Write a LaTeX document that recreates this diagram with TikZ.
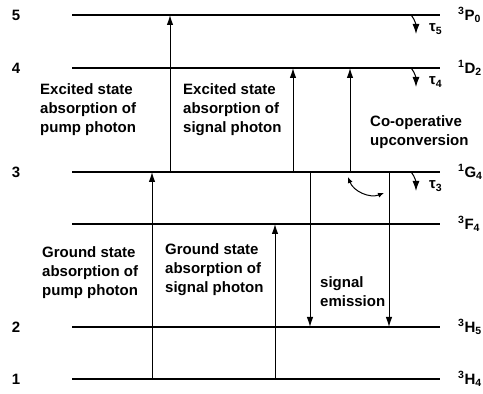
\documentclass[tikz,border=0pt]{standalone}
\usepackage{fontspec}
\setmainfont{Liberation Sans}
\usetikzlibrary{arrows.meta}
\begin{document}
\begin{tikzpicture}[x=1pt,y=1pt,font=\fontsize{15}{19}\selectfont\bfseries,
  lvl/.style={line width=1.6pt},
  absarrow/.style={line width=1pt,-{Latex[length=10pt,width=6.5pt]}},
  decayarrow/.style={line width=1pt,-{Latex[length=10pt,width=7pt]}},
  txt/.style={anchor=west,align=left,inner sep=0pt}]
  \useasboundingbox (0,0) rectangle (483,394);
  % energy levels
  \foreach \i/\y in {1/15,2/67,f/170,3/222,4/326,5/379}{
    \coordinate (L\i) at (72,\y); \coordinate (R\i) at (440,\y);
    \draw[lvl] (L\i) -- (R\i);
  }
  \foreach \i in {1,...,5} \node (n\i) at ([xshift=-56pt]L\i) {\i};
  \node[anchor=west,inner sep=0pt] (s5) at ([xshift=18pt]R5) {\textsuperscript{3}P\textsubscript{0}};
  \node[anchor=west,inner sep=0pt] (s4) at ([xshift=18pt]R4) {\textsuperscript{1}D\textsubscript{2}};
  \node[anchor=west,inner sep=0pt] (s3) at ([xshift=18pt]R3) {\textsuperscript{1}G\textsubscript{4}};
  \node[anchor=west,inner sep=0pt] (sf) at ([xshift=18pt]Rf) {\textsuperscript{3}F\textsubscript{4}};
  \node[anchor=west,inner sep=0pt] (s2) at ([xshift=18pt]R2) {\textsuperscript{3}H\textsubscript{5}};
  \node[anchor=west,inner sep=0pt] (s1) at ([xshift=18pt]R1) {\textsuperscript{3}H\textsubscript{4}};
  % transitions
  \draw[absarrow] ([xshift=80pt]L1) -- ([xshift=80pt]L3);
  \draw[absarrow] ([xshift=98pt]L3) -- ([xshift=98pt]L5);
  \draw[absarrow] ([xshift=203pt]L1) -- ([xshift=203pt]Lf);
  \draw[absarrow] ([xshift=221pt]L3) -- ([xshift=221pt]L4);
  \draw[absarrow] ([xshift=238pt]L3) -- ([xshift=238pt]L2);
  \draw[absarrow] ([xshift=278pt]L3) -- ([xshift=278pt]L4);
  \draw[absarrow] ([xshift=317pt]L3) -- ([xshift=317pt]L2);
  \coordinate (cu1) at (348,217); \coordinate (cu2) at (384,201);
  \draw[line width=1pt,{Latex[length=6pt,width=5pt]}-{Latex[length=6pt,width=5pt]}] (cu1) to[bend right=45] (cu2);
  % lifetimes
  \foreach \i in {3,4,5}{
    \draw[decayarrow] ([xshift=339pt]L\i) to[out=-50,in=90] ([xshift=344pt,yshift=-19pt]L\i);
    \node[anchor=west,inner sep=0pt] (t\i) at ([xshift=357pt,yshift=-14pt]L\i) {τ\textsubscript{\i}};
  }
  % process labels
  \node[txt] (esap) at (40,284) {Excited state\\absorption of\\pump photon};
  \node[txt] (esas) at (183,284) {Excited state\\absorption of\\signal photon};
  \node[txt] (cup) at (370,262) {Co-operative\\upconversion};
  \node[txt] (gsap) at (42,121) {Ground state\\absorption of\\pump photon};
  \node[txt] (gsas) at (165,124) {Ground state\\absorption of\\signal photon};
  \node[txt] (sem) at (320,102) {signal\\emission};
\end{tikzpicture}
\end{document}
